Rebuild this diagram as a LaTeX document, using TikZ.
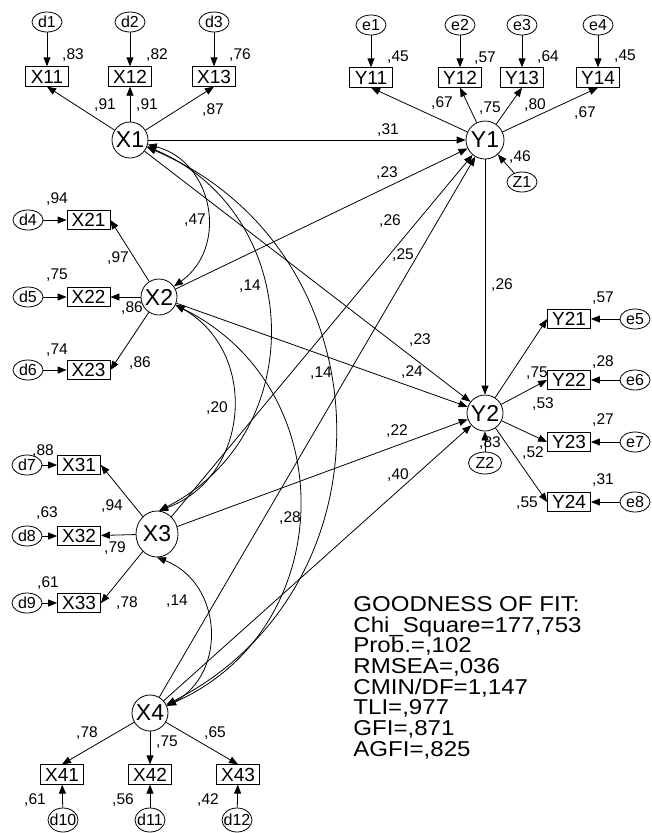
\documentclass[tikz,border=0pt]{standalone}
\usepackage{fontspec}
\setmainfont{Liberation Sans}
\newfontfamily\gofont[FakeStretch=1.12]{Liberation Sans}
\usetikzlibrary{shapes.geometric,arrows.meta}
\setlength{\lineskiplimit}{-50pt}

\begin{document}
\begin{tikzpicture}
    [x=1pt, y=-1pt, line width=0.8pt,
    >={Triangle[length=9pt,width=7pt]},
    latent/.style={circle, draw, minimum size=36pt, inner sep=0pt,
        font=\fontsize{23}{23}\selectfont},
    observed/.style={rectangle, draw, minimum width=43pt, minimum height=19.5pt,
        inner sep=0pt, font=\fontsize{19}{19}\selectfont},
    err/.style={ellipse, draw, minimum width=30pt, minimum height=20pt,
        inner xsep=-3pt, inner ysep=0pt, font=\fontsize{16}{16}\selectfont},
    coef/.style={inner sep=0pt, font=\fontsize{15.5}{15.5}\selectfont},
    fittext/.style={align=left, inner sep=0pt,
        font=\gofont\fontsize{21.5}{20.7}\selectfont},
    reg/.style={->},
    cov/.style={<->, bend left=65, looseness=1.2}
    ]
    \useasboundingbox (0,0) rectangle (651,833);

    \node[latent] (X1) at (130,140) {X1};
    \node[latent] (X2) at (159,297) {X2};
    \node[latent, ellipse, minimum width=42pt, minimum height=46pt] (X3) at (157,534) {X3};
    \node[latent] (X4) at (150,713) {X4};
    \node[latent, minimum size=38pt] (Y1) at (485,140) {Y1};
    \node[latent] (Y2) at (485,413) {Y2};

    \node[err] (d1) at (47,22) {d1};
    \node[err] (d2) at (130,22) {d2};
    \node[err] (d3) at (214,22) {d3};
    \node[observed] (X11) at (47,76.5) {X11};
    \node[observed] (X12) at (130,76.5) {X12};
    \node[observed] (X13) at (214,76.5) {X13};

    \node[err] (d4) at (28,220) {d4};
    \node[err] (d5) at (28,297) {d5};
    \node[err] (d6) at (28,370) {d6};
    \node[observed] (X21) at (88.5,220) {X21};
    \node[observed] (X22) at (88.5,297) {X22};
    \node[observed] (X23) at (88.5,370) {X23};

    \node[err] (d7) at (27,465) {d7};
    \node[err] (d8) at (27,536) {d8};
    \node[err] (d9) at (27,603) {d9};
    \node[observed] (X31) at (79,465) {X31};
    \node[observed] (X32) at (79,536) {X32};
    \node[observed] (X33) at (79,603) {X33};

    \node[observed] (X41) at (62,774.5) {X41};
    \node[observed] (X42) at (150,774.5) {X42};
    \node[observed] (X43) at (238,774.5) {X43};
    \node[err, minimum height=24pt] (d10) at (63,820) {d10};
    \node[err, minimum height=24pt] (d11) at (150,820) {d11};
    \node[err, minimum height=24pt] (d12) at (237,820) {d12};

    \node[err] (e1) at (371,25) {e1};
    \node[err] (e2) at (460,25) {e2};
    \node[err] (e3) at (522,25) {e3};
    \node[err] (e4) at (598,25) {e4};
    \node[observed] (Y11) at (371,77.5) {Y11};
    \node[observed] (Y12) at (460,77.5) {Y12};
    \node[observed] (Y13) at (522,77.5) {Y13};
    \node[observed] (Y14) at (598,77.5) {Y14};
    \node[err] (Z1) at (522,182) {Z1};

    \node[observed] (Y21) at (569,319) {Y21};
    \node[observed] (Y22) at (569,380) {Y22};
    \node[observed] (Y23) at (569,442) {Y23};
    \node[observed] (Y24) at (569,502) {Y24};
    \node[err] (e5) at (635,319) {e5};
    \node[err] (e6) at (635,380) {e6};
    \node[err] (e7) at (635,442) {e7};
    \node[err] (e8) at (635,502) {e8};
    \node[err, minimum width=33pt, minimum height=22pt] (Z2) at (485,463) {Z2};

    \draw[reg] (d1) -- (X11);
    \draw[reg] (d2) -- (X12);
    \draw[reg] (d3) -- (X13);
    \draw[reg] (X1) -- (X11.south);
    \draw[reg] (X1) -- (X12.south);
    \draw[reg] (X1) -- (X13.south);
    \draw[reg] (d4) -- (X21);
    \draw[reg] (d5) -- (X22);
    \draw[reg] (d6) -- (X23);
    \draw[reg] (X2) -- (X21.east);
    \draw[reg] (X2) -- (X22);
    \draw[reg] (X2) -- (X23.east);
    \draw[reg] (d7) -- (X31);
    \draw[reg] (d8) -- (X32);
    \draw[reg] (d9) -- (X33);
    \draw[reg] (X3) -- (X31.east);
    \draw[reg] (X3) -- (X32);
    \draw[reg] (X3) -- (X33.east);
    \draw[reg] (X4) -- (X41.north);
    \draw[reg] (X4) -- (X42.north);
    \draw[reg] (X4) -- (X43.north);
    \draw[reg] (d10) -- (X41);
    \draw[reg] (d11) -- (X42);
    \draw[reg] (d12) -- (X43);
    \draw[reg] (e1) -- (Y11);
    \draw[reg] (e2) -- (Y12);
    \draw[reg] (e3) -- (Y13);
    \draw[reg] (e4) -- (Y14);
    \draw[reg] (Y1) -- (Y11.south);
    \draw[reg] (Y1) -- (Y12.south);
    \draw[reg] (Y1) -- (Y13.south);
    \draw[reg] (Y1) -- (Y14.south);
    \draw[reg] (Y2) -- (Y21.west);
    \draw[reg] (Y2) -- (Y22.west);
    \draw[reg] (Y2) -- (Y23.west);
    \draw[reg] (Y2) -- (Y24.west);
    \draw[reg] (e5) -- (Y21);
    \draw[reg] (e6) -- (Y22);
    \draw[reg] (e7) -- (Y23);
    \draw[reg] (e8) -- (Y24);

    \draw[reg] (X1) -- (Y1);
    \draw[reg] (X2) -- (Y1);
    \draw[reg] (X3) -- (Y1);
    \draw[reg] (X4) -- (Y1);
    \draw[reg] (X1) -- (Y2);
    \draw[reg] (X2) -- (Y2);
    \draw[reg] (X3) -- (Y2);
    \draw[reg] (X4) -- (Y2);
    \draw[reg] (Y1) -- (Y2);
    \draw[reg] (Z1) -- (Y1);
    \draw[reg] (Z2) -- (Y2);

    \draw[cov] (X1) to (X2);
    \draw[cov] (X1) to (X3.85);
    \draw[cov] (X1) to (X4);
    \draw[cov] (X2) to (X3.85);
    \draw[cov] (X2) to (X4);
    \draw[cov] (X3.south) to (X4);

    \node[coef] (rX11) at (73,55) {,83};
    \node[coef] (rX12) at (157,55) {,82};
    \node[coef] (rX13) at (240,55) {,76};
    \node[coef] (lX11) at (105,105) {,91};
    \node[coef] (lX12) at (147,105) {,91};
    \node[coef] (lX13) at (213,110) {,87};
    \node[coef] (rX21) at (57,199) {,94};
    \node[coef] (rX22) at (57,275) {,75};
    \node[coef] (rX23) at (57,350) {,74};
    \node[coef] (lX21) at (118,258) {,97};
    \node[coef] (lX22) at (132,308) {,86};
    \node[coef] (lX23) at (140,363) {,86};
    \node[coef] (rX31) at (43,451) {,88};
    \node[coef] (rX32) at (47,513) {,63};
    \node[coef] (rX33) at (48,583) {,61};
    \node[coef] (lX31) at (112,506) {,94};
    \node[coef] (lX32) at (115,548) {,79};
    \node[coef] (lX33) at (127,603) {,78};
    \node[coef] (lX41) at (87,733) {,78};
    \node[coef] (lX42) at (167,742) {,75};
    \node[coef] (lX43) at (215,733) {,65};
    \node[coef] (rX41) at (35,800) {,61};
    \node[coef] (rX42) at (123,800) {,56};
    \node[coef] (rX43) at (208,800) {,42};

    \node[coef] (rY11) at (398,57) {,45};
    \node[coef] (rY12) at (485,58) {,57};
    \node[coef] (rY13) at (548,57) {,64};
    \node[coef] (rY14) at (625,56) {,45};
    \node[coef] (lY11) at (442,103) {,67};
    \node[coef] (lY12) at (490,108) {,75};
    \node[coef] (lY13) at (535,105) {,80};
    \node[coef] (lY14) at (585,113) {,67};
    \node[coef] (rY21) at (603,298) {,57};
    \node[coef] (rY22) at (603,362) {,28};
    \node[coef] (rY23) at (603,420) {,27};
    \node[coef] (rY24) at (603,480) {,31};
    \node[coef] (lY21) at (537,373) {,75};
    \node[coef] (lY22) at (543,404) {,53};
    \node[coef] (lY23) at (533,453) {,52};
    \node[coef] (lY24) at (527,503) {,55};

    \node[coef] (rY1) at (520,157) {,46};
    \node[coef] (rY2) at (490,443) {,83};
    \node[coef] (pX1Y1) at (388,130) {,31};
    \node[coef] (pX2Y1) at (387,173) {,23};
    \node[coef] (pX3Y1) at (390,221) {,26};
    \node[coef] (pX4Y1) at (403,255) {,25};
    \node[coef] (pY1Y2) at (502,285) {,26};
    \node[coef] (pX1Y2) at (420,340) {,23};
    \node[coef] (pX2Y2) at (412,372) {,24};
    \node[coef] (pX3Y2) at (397,431) {,22};
    \node[coef] (pX4Y2) at (398,475) {,40};
    \node[coef] (cX1X2) at (195,220) {,47};
    \node[coef] (cX1X3) at (250,286) {,14};
    \node[coef] (cX1X4) at (321,373) {,14};
    \node[coef] (cX2X3) at (217,408) {,20};
    \node[coef] (cX2X4) at (290,518) {,28};
    \node[coef] (cX3X4) at (177,601) {,14};

    \node[fittext, anchor=north west] (gof) at (353,596)
        {GOODNESS OF FIT:\\Chi\_Square=177,753\\Prob.=,102\\RMSEA=,036\\CMIN/DF=1,147\\TLI=,977\\GFI=,871\\AGFI=,825};
\end{tikzpicture}
\end{document}
